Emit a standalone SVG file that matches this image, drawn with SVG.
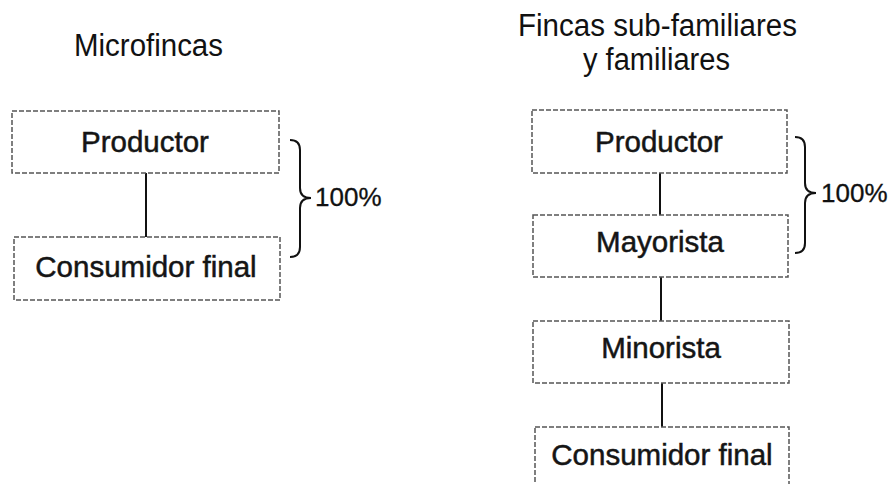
<svg xmlns="http://www.w3.org/2000/svg" width="889" height="484" viewBox="0 0 889 484">
<style>
.box{fill:none;stroke:#555;stroke-width:1.5;stroke-dasharray:5 2}
.lbl{font-family:"Liberation Sans",Arial,sans-serif;font-size:29.5px;fill:#151515;stroke:#151515;stroke-width:0.5;text-anchor:middle}
.ttl{font-family:"Liberation Sans",Arial,sans-serif;font-size:31px;fill:#111}
.pct{font-family:"Liberation Sans",Arial,sans-serif;font-size:26px;fill:#111;stroke:#111;stroke-width:0.3}
.conn{stroke:#111;stroke-width:2;fill:none}
.brace{stroke:#111;stroke-width:2;fill:none}
</style>
<rect width="889" height="484" fill="#fff"/>
<text class="ttl" x="74" y="56" textLength="149" lengthAdjust="spacingAndGlyphs">Microfincas</text>
<text class="ttl" x="518" y="36" textLength="279" lengthAdjust="spacingAndGlyphs">Fincas sub-familiares</text>
<text class="ttl" x="583" y="70" textLength="147" lengthAdjust="spacingAndGlyphs">y familiares</text>
<g id="connectors">
<line class="conn" x1="146" y1="173" x2="146" y2="237"/>
<line class="conn" x1="660" y1="173" x2="660" y2="215"/>
<line class="conn" x1="661" y1="277" x2="661" y2="321"/>
<line class="conn" x1="662" y1="383" x2="662" y2="427"/>
</g>
<g id="n1"><rect class="box" x="12" y="111" width="267" height="62"/><text class="lbl" x="145" y="152">Productor</text></g>
<g id="n2"><rect class="box" x="14" y="237" width="266" height="63"/><text class="lbl" x="146" y="277">Consumidor final</text></g>
<g id="n3"><rect class="box" x="532" y="110" width="255" height="63"/><text class="lbl" x="659" y="152">Productor</text></g>
<g id="n4"><rect class="box" x="533" y="215" width="255" height="62"/><text class="lbl" x="660" y="252">Mayorista</text></g>
<g id="n5"><rect class="box" x="533" y="321" width="256" height="62"/><text class="lbl" x="661" y="358">Minorista</text></g>
<g id="n6"><rect class="box" x="535" y="427" width="254" height="64"/><text class="lbl" x="662" y="465">Consumidor final</text></g>
<g id="brace-left">
<path class="brace" d="M290 140 Q300 140 300 150 L300 188 Q300 198 311 198 Q300 198 300 208 L300 247 Q300 257 290 257"/>
<text class="pct" x="315" y="206">100%</text>
</g>
<g id="brace-right">
<path class="brace" d="M795 137 Q805 137 805 147 L805 183 Q805 193 816 193 Q805 193 805 203 L805 243 Q805 253 795 253"/>
<text class="pct" x="821" y="202">100%</text>
</g>
</svg>
